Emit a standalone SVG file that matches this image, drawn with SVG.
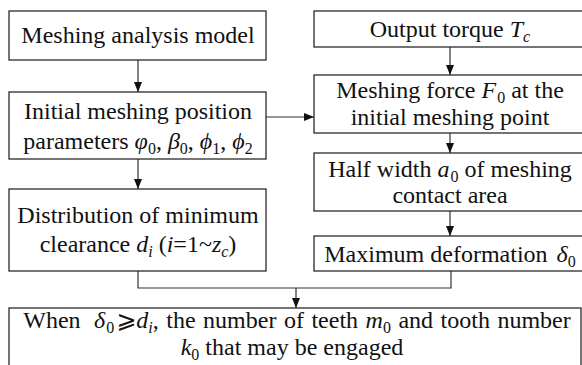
<svg xmlns="http://www.w3.org/2000/svg" width="582" height="365" viewBox="0 0 582 365">
<defs>
<style>
.box{fill:#fff;stroke:#2a2a2a;stroke-width:1.3}
.t{font-family:"Liberation Serif","Times New Roman",serif;font-size:24px;fill:#111;text-anchor:middle}
.i{font-style:italic}
.s{font-size:16px}
.con{fill:none;stroke:#333;stroke-width:1.2}
</style>
<marker id="ah" viewBox="0 0 10 10" refX="10" refY="5" markerWidth="10" markerHeight="10" markerUnits="userSpaceOnUse" orient="auto">
<path d="M0,1 L10,5 L0,9 Z" fill="#111"/>
</marker>
</defs>
<rect width="582" height="365" fill="#fff"/>
<g id="connectors">
<line class="con" x1="138" y1="60" x2="138" y2="92" marker-end="url(#ah)"/>
<line class="con" x1="138" y1="159" x2="138" y2="189" marker-end="url(#ah)"/>
<line class="con" x1="266" y1="117" x2="314" y2="117" marker-end="url(#ah)"/>
<line class="con" x1="450" y1="47" x2="450" y2="75" marker-end="url(#ah)"/>
<line class="con" x1="450" y1="133" x2="450" y2="153" marker-end="url(#ah)"/>
<line class="con" x1="450" y1="211" x2="450" y2="236" marker-end="url(#ah)"/>
<polyline class="con" points="138,271 138,288 451,288 451,271"/>
<line class="con" x1="296" y1="288" x2="296" y2="308" marker-end="url(#ah)"/>
</g>
<g id="n1">
<rect class="box" x="9" y="11" width="257" height="49"/>
<text class="t" x="138" y="43">Meshing analysis model</text>
</g>
<g id="n2">
<rect class="box" x="9" y="92" width="257" height="67"/>
<text class="t" x="138" y="119">Initial meshing position</text>
<text class="t" x="138" y="149">parameters <tspan class="i">φ</tspan><tspan class="s" dy="5">0</tspan><tspan dy="-5">, </tspan><tspan class="i">β</tspan><tspan class="s" dy="5">0</tspan><tspan dy="-5">, </tspan><tspan class="i">ϕ</tspan><tspan class="s" dy="5">1</tspan><tspan dy="-5">, </tspan><tspan class="i">ϕ</tspan><tspan class="s" dy="5">2</tspan></text>
</g>
<g id="n3">
<rect class="box" x="9" y="189" width="257" height="82"/>
<text class="t" x="138" y="223">Distribution of minimum</text>
<text class="t" x="138" y="252">clearance <tspan class="i">d</tspan><tspan class="s i" dy="5">i</tspan><tspan dy="-5"> (</tspan><tspan class="i">i</tspan>=1~<tspan class="i">z</tspan><tspan class="s i" dy="5">c</tspan><tspan dy="-5">)</tspan></text>
</g>
<g id="n4">
<rect class="box" x="314" y="11" width="274" height="36"/>
<text class="t" x="450" y="37">Output torque <tspan class="i">T</tspan><tspan class="s i" dy="5">c</tspan></text>
</g>
<g id="n5">
<rect class="box" x="314" y="75" width="274" height="58"/>
<text class="t" x="450" y="98">Meshing force <tspan class="i">F</tspan><tspan class="s" dy="5" dx="1">0</tspan><tspan dy="-5"> at the</tspan></text>
<text class="t" x="450" y="125">initial meshing point</text>
</g>
<g id="n6">
<rect class="box" x="314" y="153" width="274" height="58"/>
<text class="t" x="450" y="177">Half width <tspan class="i">a</tspan><tspan class="s" dy="5" dx="1">0</tspan><tspan dy="-5"> of meshing</tspan></text>
<text class="t" x="450" y="203">contact area</text>
</g>
<g id="n7">
<rect class="box" x="314" y="236" width="274" height="35"/>
<text class="t" x="450" y="262">Maximum deformation <tspan class="i" dx="3">δ</tspan><tspan class="s" dy="5">0</tspan></text>
</g>
<g id="n8">
<rect class="box" x="9" y="308" width="572" height="70"/>
<text class="t" x="297" y="328" style="word-spacing:1.5px">When <tspan class="i" dx="6">δ</tspan><tspan class="s" dy="5" dx="1">0</tspan><tspan dy="-5" dx="2" style="font-family:'DejaVu Serif','DejaVu Sans',serif">⩾</tspan><tspan class="i">d</tspan><tspan class="s i" dy="5">i</tspan><tspan dy="-5">, the number of teeth </tspan><tspan class="i">m</tspan><tspan class="s" dy="5">0</tspan><tspan dy="-5"> and tooth number</tspan></text>
<text class="t" x="292" y="355"><tspan class="i">k</tspan><tspan class="s" dy="5">0</tspan><tspan dy="-5"> that may be engaged</tspan></text>
</g>
</svg>
